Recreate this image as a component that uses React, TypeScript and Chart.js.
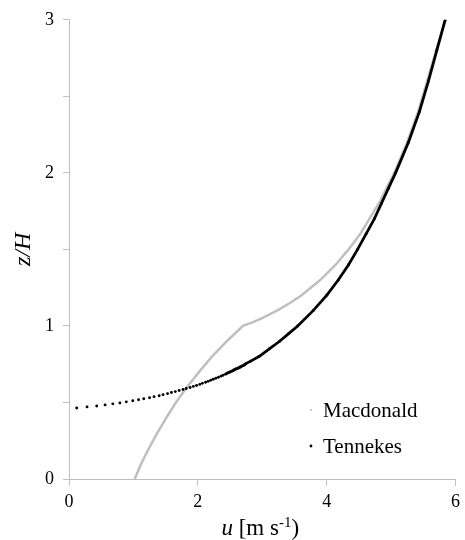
import React, { useEffect, useRef } from 'react';
import { Chart, registerables } from 'chart.js';

Chart.register(...registerables);

const FONT = '"Liberation Serif", "DejaVu Serif", serif';

// Macdonald profile (grey line): z/H and u [m s-1]
const macZ = [0, 0.1, 0.2, 0.3, 0.4, 0.5, 0.6, 0.7, 0.8, 0.9, 1.0, 1.01, 1.02, 1.05, 1.1, 1.15, 1.2, 1.3, 1.4, 1.5, 1.6, 1.8, 2.0, 2.2, 2.4, 2.6, 2.8, 3.0];
const macU = [1.02, 1.12, 1.24, 1.37, 1.51, 1.66, 1.83, 2.02, 2.22, 2.45, 2.70, 2.76, 2.83, 2.99, 3.23, 3.43, 3.61, 3.90, 4.14, 4.34, 4.52, 4.81, 5.05, 5.25, 5.42, 5.56, 5.70, 5.84];

// Tennekes profile (black dots)
const tenZ = [0.464, 0.471, 0.477, 0.484, 0.491, 0.497, 0.504, 0.511, 0.518, 0.524, 0.531, 0.538, 0.544, 0.551, 0.558, 0.565, 0.571, 0.578, 0.585, 0.591, 0.598, 0.605, 0.611, 0.618, 0.625, 0.632, 0.638, 0.645, 0.652, 0.658, 0.665, 0.672, 0.678, 0.685, 0.692, 0.699, 0.705, 0.712, 0.719, 0.725, 0.732, 0.739, 0.745, 0.752, 0.77, 0.80, 0.85, 0.90, 0.95, 1.00, 1.10, 1.20, 1.30, 1.40, 1.50, 1.60, 1.70, 1.80, 1.90, 2.00, 2.20, 2.40, 2.60, 2.80, 3.00];
const tenU = [0.12, 0.28, 0.43, 0.56, 0.68, 0.79, 0.89, 0.99, 1.08, 1.16, 1.25, 1.32, 1.40, 1.46, 1.53, 1.59, 1.65, 1.71, 1.77, 1.82, 1.88, 1.93, 1.98, 2.03, 2.07, 2.12, 2.16, 2.20, 2.24, 2.28, 2.32, 2.36, 2.39, 2.43, 2.46, 2.50, 2.53, 2.56, 2.59, 2.63, 2.66, 2.69, 2.72, 2.74, 2.82, 2.95, 3.11, 3.27, 3.41, 3.55, 3.79, 4.00, 4.18, 4.34, 4.48, 4.61, 4.74, 4.85, 4.96, 5.07, 5.27, 5.44, 5.58, 5.71, 5.84];

const seriesNames = ['Macdonald', 'Tennekes'];
const xTicks = [0, 2, 4, 6];
const yTicks = [0, 0.5, 1, 1.5, 2, 2.5, 3];
const yLabelled = [0, 1, 2, 3];
const yTitle = 'z/H';

const GREY = '#BFBFBF';
const AXIS = '#BFBFBF';

export default function App() {
  const ref = useRef<HTMLCanvasElement>(null);

  useEffect(() => {
    const canvas = ref.current;
    if (!canvas) return;

    const annotate = {
      id: 'annotate',
      afterDraw(chart: any) {
        const ctx = chart.ctx as CanvasRenderingContext2D;
        const a = chart.chartArea;
        ctx.save();
        ctx.fillStyle = '#000';

        // x-axis title: u [m s-1)
        const parts = [
          { t: 'u', font: `italic 23px ${FONT}`, dy: 0 },
          { t: ' [m s', font: `23px ${FONT}`, dy: 0 },
          { t: '-1', font: `15px ${FONT}`, dy: -8 },
          { t: ')', font: `23px ${FONT}`, dy: 0 },
        ];
        let total = 0;
        const widths = parts.map((p) => {
          ctx.font = p.font;
          const w = ctx.measureText(p.t).width;
          total += w;
          return w;
        });
        let x = (a.left + a.right) / 2 - total / 2 - 2;
        const base = 535;
        ctx.textAlign = 'left';
        ctx.textBaseline = 'alphabetic';
        parts.forEach((p, i) => {
          ctx.font = p.font;
          ctx.fillText(p.t, x, base + p.dy);
          x += widths[i];
        });

        // y-axis title
        ctx.save();
        ctx.translate(22, (a.top + a.bottom) / 2);
        ctx.rotate(-Math.PI / 2);
        ctx.font = `italic 24px ${FONT}`;
        ctx.textAlign = 'center';
        ctx.textBaseline = 'alphabetic';
        ctx.fillText(yTitle, 0, 8);
        ctx.restore();

        // legend
        ctx.font = `21px ${FONT}`;
        ctx.textAlign = 'left';
        ctx.textBaseline = 'alphabetic';
        const lx = a.left + 254;
        const rows = [
          { name: seriesNames[0], color: GREY, r: 1.0, y: 417 },
          { name: seriesNames[1], color: '#000', r: 1.4, y: 453 },
        ];
        rows.forEach((row) => {
          ctx.fillStyle = row.color;
          ctx.beginPath();
          ctx.arc(lx - 12, row.y - 7, row.r, 0, Math.PI * 2);
          ctx.fill();
          ctx.fillStyle = '#000';
          ctx.fillText(row.name, lx, row.y);
        });
        ctx.restore();
      },
    };

    const chart = new Chart(canvas, {
      type: 'scatter',
      data: {
        datasets: [
          {
            label: seriesNames[1],
            data: tenZ.map((z, i) => ({ x: tenU[i], y: z })),
            showLine: true,
            borderColor: '#000',
            borderWidth: 2.75,
            pointRadius: 1.45,
            pointBackgroundColor: '#000',
            pointBorderWidth: 0,
            pointHoverRadius: 1.45,
            tension: 0,
            order: 0,
            segment: {
              borderColor: (c: any) => (c.p0.parsed.y >= 0.68 ? '#000' : 'rgba(0,0,0,0)'),
            },
          },
          {
            label: seriesNames[0],
            data: macZ.map((z, i) => ({ x: macU[i], y: z })),
            showLine: true,
            borderColor: GREY,
            borderWidth: 2.5,
            pointRadius: 0,
            pointHoverRadius: 0,
            tension: 0,
            order: 1,
          },
        ],
      },
      options: {
        responsive: false,
        animation: false,
        devicePixelRatio: 1,
        layout: { padding: { left: 0, right: 9, top: 18, bottom: 0 } },
        plugins: {
          legend: { display: false },
          tooltip: { enabled: false },
        },
        scales: {
          x: {
            type: 'linear',
            min: 0,
            max: 6,
            afterBuildTicks: (s: any) => {
              s.ticks = xTicks.map((v) => ({ value: v }));
            },
            afterFit: (s: any) => {
              s.height = 61;
            },
            ticks: {
              color: '#000',
              font: { family: FONT, size: 18 },
              padding: 5,
              maxRotation: 0,
              callback: (v: any) => String(v),
            },
            grid: {
              display: true,
              drawOnChartArea: false,
              drawTicks: true,
              tickLength: 7,
              color: AXIS,
              lineWidth: 1,
            },
            border: { display: true, color: AXIS, width: 1 },
            title: { display: false },
          },
          y: {
            type: 'linear',
            min: 0,
            max: 3,
            afterBuildTicks: (s: any) => {
              s.ticks = yTicks.map((v) => ({ value: v }));
            },
            afterFit: (s: any) => {
              s.width = 69;
            },
            ticks: {
              color: '#000',
              font: { family: FONT, size: 18 },
              padding: 9,
              callback: (v: any) => (yLabelled.includes(Number(v)) ? String(v) : ''),
            },
            grid: {
              display: true,
              drawOnChartArea: false,
              drawTicks: true,
              tickLength: 6,
              color: AXIS,
              lineWidth: 1,
            },
            border: { display: true, color: AXIS, width: 1 },
            title: { display: false },
          },
        },
      },
      plugins: [annotate],
    });

    return () => chart.destroy();
  }, []);

  return (
    <div style={{ position: 'fixed', left: 0, top: 0, width: 465, height: 540, background: '#fff' }}>
      <canvas ref={ref} width={465} height={540} style={{ display: 'block', width: 465, height: 540 }} />
    </div>
  );
}
